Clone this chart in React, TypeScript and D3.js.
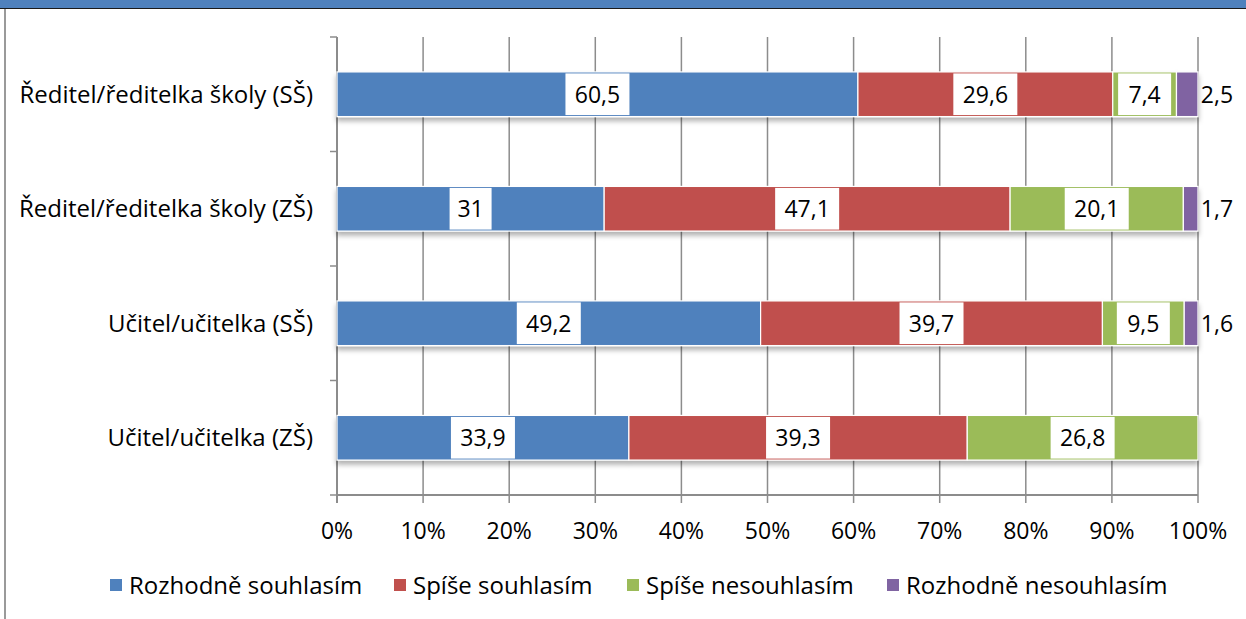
import React from "react";
import * as d3 from "d3";

const categories = [
  "Ředitel/ředitelka školy (SŠ)",
  "Ředitel/ředitelka školy (ZŠ)",
  "Učitel/učitelka (SŠ)",
  "Učitel/učitelka (ZŠ)",
];
const seriesNames = [
  "Rozhodně souhlasím",
  "Spíše souhlasím",
  "Spíše nesouhlasím",
  "Rozhodně nesouhlasím",
];
const rozhodneSouhlasim = [60.5, 31, 49.2, 33.9];
const spiseSouhlasim = [29.6, 47.1, 39.7, 39.3];
const spiseNesouhlasim = [7.4, 20.1, 9.5, 26.8];
const rozhodneNesouhlasim = [2.5, 1.7, 1.6, 0];
const xTicks = [0, 10, 20, 30, 40, 50, 60, 70, 80, 90, 100];
const colors = ["#4F81BD", "#C0504D", "#9BBB59", "#8064A2"];

const W = 1246;
const H = 619;
const FONT = "'Open Sans', Lato, sans-serif";
const FS = 24;
const FSN = 23;

export default function App() {
  const series = [rozhodneSouhlasim, spiseSouhlasim, spiseNesouhlasim, rozhodneNesouhlasim];
  const x = d3.scaleLinear().domain([0, 100]).range([337, 1198]);
  const y = d3.scaleBand<string>().domain(categories).range([37, 495]);
  const step = y.step();
  const barH = step * 0.39;
  const fmt = (v: number) => String(v).replace(".", ",");

  const rows = categories.map((c, i) => {
    const vals = series.map((s) => s[i]);
    const total = d3.sum(vals);
    let acc = 0;
    const segs = vals.map((v, k) => {
      const x0 = (acc / total) * 100;
      acc += v;
      const x1 = (acc / total) * 100;
      return { v, k, x0, x1 };
    });
    return { c, segs };
  });

  const legendX = [110, 394, 627, 887];

  return (
    <svg width={W} height={H} style={{ position: "absolute", left: 0, top: 0, background: "#fff" }}>
      <defs>
        <filter id="shadow" x="-5%" y="-30%" width="110%" height="180%">
          <feDropShadow dx="0" dy="4" stdDeviation="2.5" floodColor="#000" floodOpacity="0.3" />
        </filter>
      </defs>
      <rect x={0} y={0} width={W} height={H} fill="#fff" />
      {/* header */}
      <rect x={0} y={0} width={W} height={8} fill="#4F81BD" />
      <line x1={0} x2={W} y1={8.5} y2={8.5} stroke="#1a1a1a" strokeWidth={1} />
      <line x1={5} x2={5} y1={9} y2={H} stroke="#9a9a9a" strokeWidth={2} />

      {/* gridlines */}
      {xTicks.map((t) => (
        <line key={t} x1={x(t)} x2={x(t)} y1={37} y2={503} stroke="#8c8c8c" strokeWidth={1.5} />
      ))}
      {/* category axis */}
      <line x1={x(0)} x2={x(0)} y1={37} y2={503} stroke="#8c8c8c" strokeWidth={2} />
      {categories.map((c, i) => (
        <line key={c} x1={330} x2={337} y1={37 + step * i} y2={37 + step * i} stroke="#8c8c8c" strokeWidth={1.5} />
      ))}
      <line x1={330} x2={337} y1={495} y2={495} stroke="#8c8c8c" strokeWidth={1.5} />
      <line x1={x(0)} x2={x(100)} y1={495} y2={495} stroke="#8c8c8c" strokeWidth={2} />

      {/* bars */}
      {rows.map((r) => {
        const cy = (y(r.c) as number) + step / 2;
        const top = cy - barH / 2;
        return (
          <g key={r.c}>
            <g filter="url(#shadow)">
              {r.segs.filter((s) => s.v > 0).map((s) => (
                <rect key={s.k} x={x(s.x0)} y={top} width={x(s.x1) - x(s.x0)} height={barH}
                  fill={colors[s.k]} stroke="#fff" strokeWidth={1.2} />
              ))}
            </g>
            {r.segs.filter((s) => s.v > 0).map((s) => {
              const inside = s.k < 3;
              const cx = inside ? (x(s.x0) + x(s.x1)) / 2 : x(100) + 19;
              const txt = fmt(s.v);
              const bw = txt.length * 11 + 20;
              return (
                <g key={"l" + s.k}>
                  {inside && (
                    <rect x={cx - bw / 2} y={top + 1.5} width={bw} height={barH - 3} fill="#fff" />
                  )}
                  <text x={cx} y={cy} dy="0.36em" textAnchor="middle" fontFamily={FONT} fontSize={FSN} fill="#000">
                    {txt}
                  </text>
                </g>
              );
            })}
            <text x={313} y={cy} dy="0.36em" textAnchor="end" fontFamily={FONT} fontSize={FS} fill="#000">
              {r.c}
            </text>
          </g>
        );
      })}

      {/* x tick labels */}
      {xTicks.map((t) => (
        <text key={t} x={x(t)} y={531} dy="0.36em" textAnchor="middle" fontFamily={FONT} fontSize={FSN} fill="#000">
          {t + "%"}
        </text>
      ))}

      {/* legend */}
      {seriesNames.map((n, i) => (
        <g key={n}>
          <rect x={legendX[i]} y={579} width={12} height={12} fill={colors[i]} />
          <text x={legendX[i] + 19} y={585} dy="0.36em" fontFamily={FONT} fontSize={FS} fill="#000">
            {n}
          </text>
        </g>
      ))}
    </svg>
  );
}
